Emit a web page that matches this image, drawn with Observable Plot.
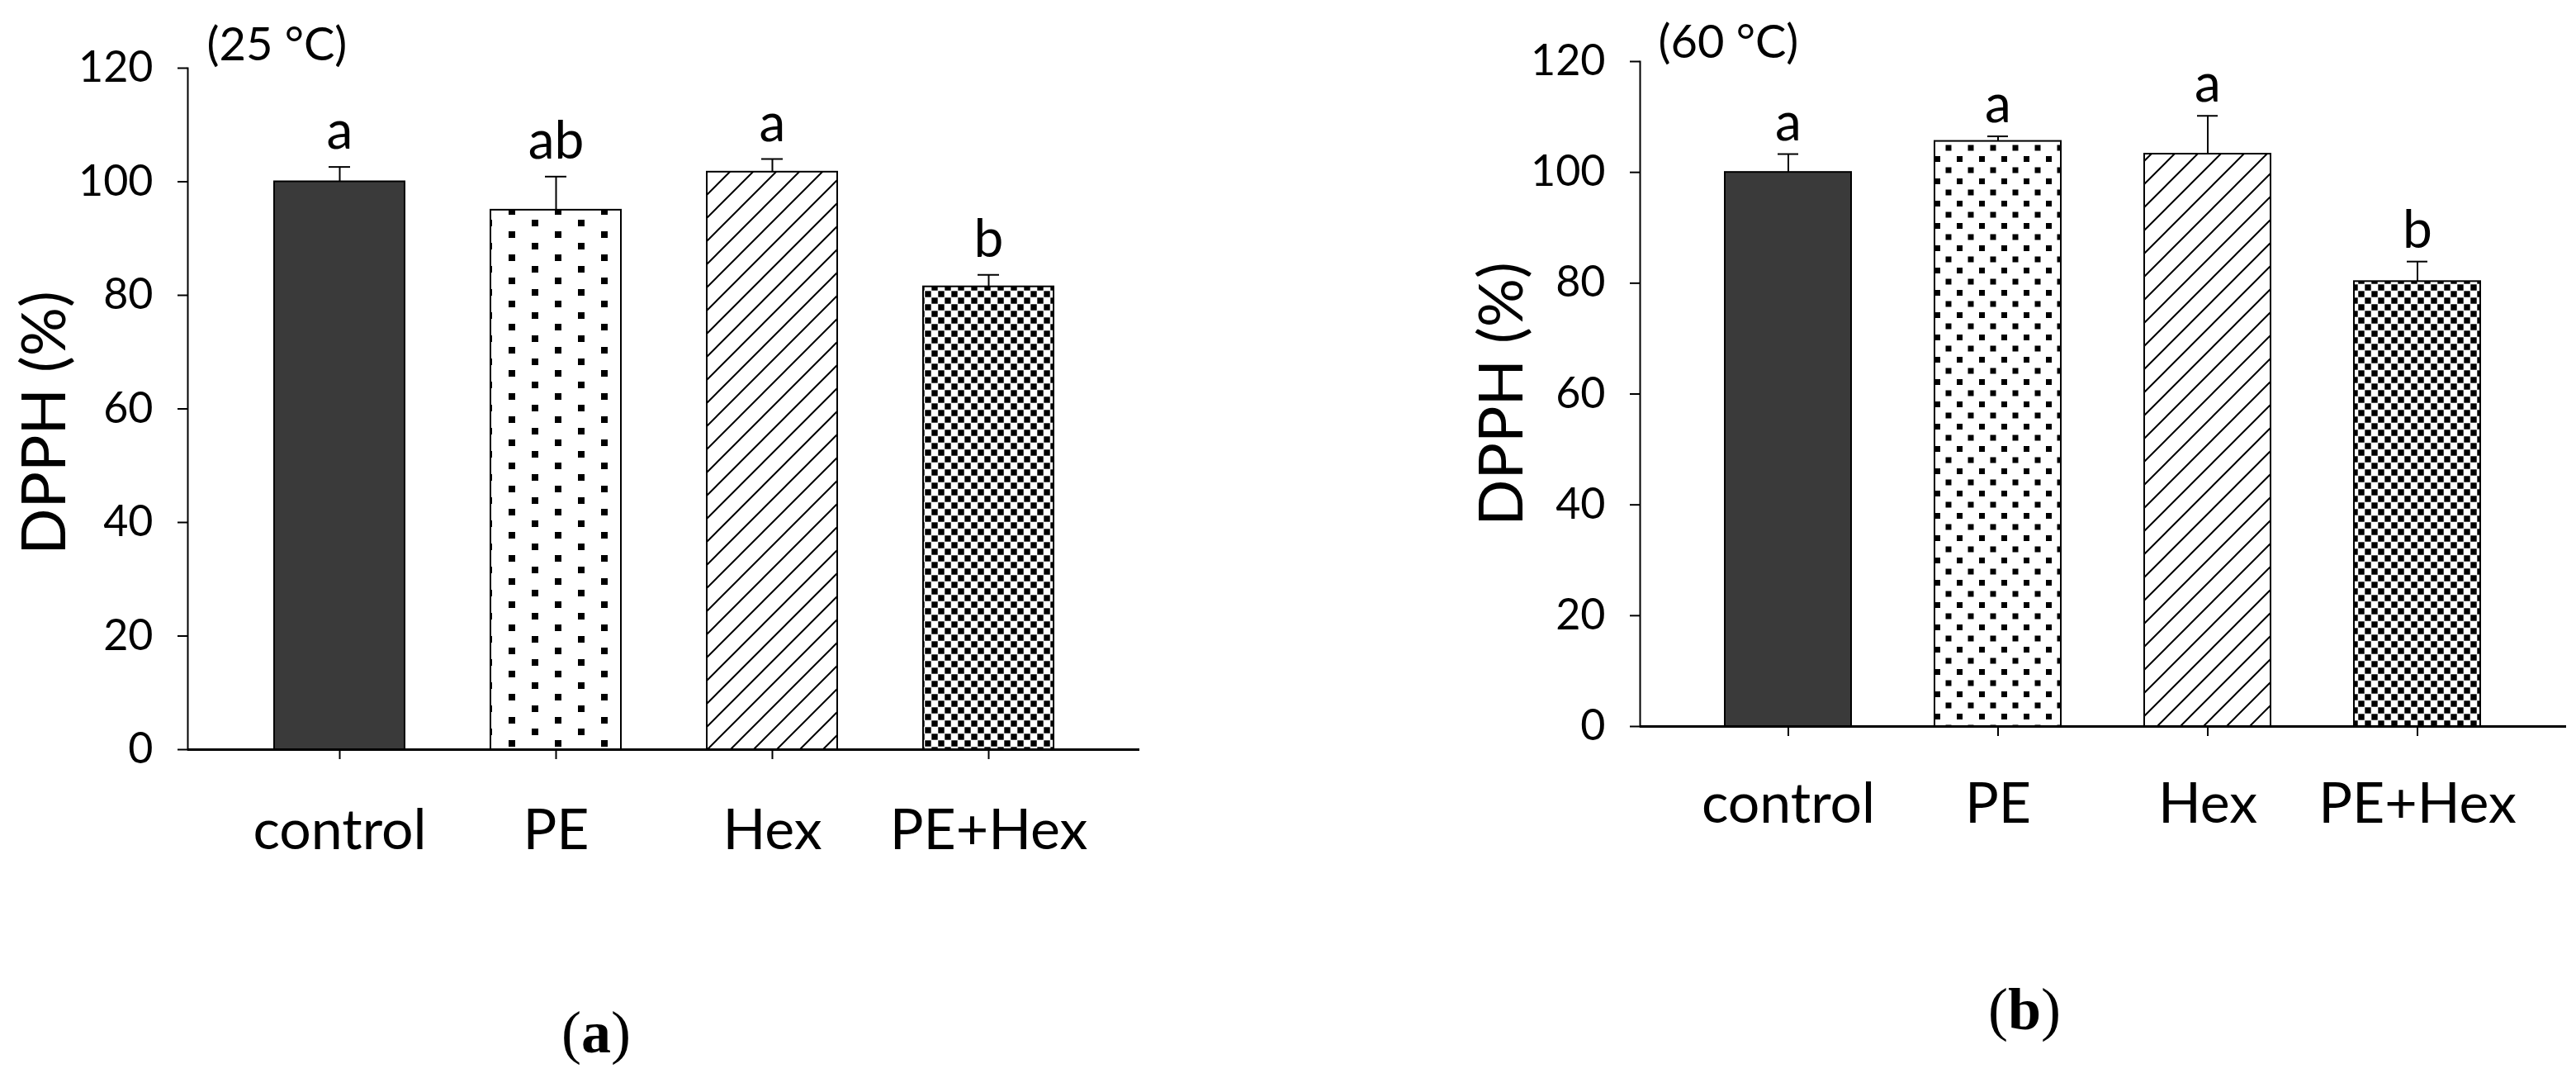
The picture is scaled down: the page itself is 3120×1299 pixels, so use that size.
<!DOCTYPE html>
<html>
<head>
<meta charset="utf-8">
<script src="https://cdn.jsdelivr.net/npm/d3@7"></script>
<script src="https://cdn.jsdelivr.net/npm/@observablehq/plot@0.6"></script>
<style>
  html, body { margin: 0; padding: 0; background: #fff; }
  #wrap { position: relative; width: 3120px; height: 1299px; overflow: hidden; background: #fff; }
  #wrap svg { position: absolute; top: 0; }
  .cap { position: absolute; font-family: "Liberation Serif", "DejaVu Serif", serif; font-size: 72px; line-height: 1; color: #000; transform: translate(-50%, -50%); white-space: nowrap; }
  .cap b { font-weight: bold; }
</style>
</head>
<body>
<div id="wrap">
  <div class="cap" style="left:722px; top:1250px;">(<b>a</b>)</div>
  <div class="cap" style="left:2452px; top:1222px;">(<b>b</b>)</div>
</div>
<script>
// ---------- data ----------
const categories = ["control", "PE", "Hex", "PE+Hex"];
const yTicks = [0, 20, 40, 60, 80, 100, 120];

const mean25 = [100, 95.0, 101.7, 81.5];
const upper25 = [102.6, 100.9, 104.0, 83.6];
const letters25 = ["a", "ab", "a", "b"];

const mean60 = [100, 105.6, 103.3, 80.3];
const upper60 = [103.3, 106.5, 110.2, 83.9];
const letters60 = ["a", "a", "a", "b"];

const tempLabels = ["(25 °C)", "(60 °C)"];
const yTitle = "DPPH (%)";

// ---------- helpers ----------
function addPatterns(svg, tag, dotTile, dotSize) {
  const defs = d3.select(svg).insert("defs", ":first-child");
  // dots
  const pd = defs.append("pattern").attr("id", "dots" + tag).attr("patternUnits", "userSpaceOnUse")
    .attr("width", dotTile[0]).attr("height", dotTile[1]);
  pd.append("rect").attr("width", dotTile[0]).attr("height", dotTile[1]).attr("fill", "#fff");
  pd.append("rect").attr("x", 0).attr("y", 0).attr("width", dotSize).attr("height", dotSize).attr("fill", "#000");
  pd.append("rect").attr("x", dotTile[0] / 2).attr("y", dotTile[1] / 2).attr("width", dotSize).attr("height", dotSize).attr("fill", "#000");
  // hatch
  const ph = defs.append("pattern").attr("id", "hatch" + tag).attr("patternUnits", "userSpaceOnUse")
    .attr("width", 28).attr("height", 28);
  ph.append("rect").attr("width", 28).attr("height", 28).attr("fill", "#fff");
  ph.append("path").attr("d", "M-7,35 L35,-7 M-7,7 L7,-7 M21,35 L35,21").attr("stroke", "#000").attr("stroke-width", 2);
  // checker
  const pc = defs.append("pattern").attr("id", "check" + tag).attr("patternUnits", "userSpaceOnUse")
    .attr("width", 16).attr("height", 16);
  pc.append("rect").attr("width", 16).attr("height", 16).attr("fill", "#fff");
  pc.append("rect").attr("x", 0.3).attr("y", 0.3).attr("width", 7.4).attr("height", 7.4).attr("fill", "#000");
  pc.append("rect").attr("x", 8.3).attr("y", 8.3).attr("width", 7.4).attr("height", 7.4).attr("fill", "#000");
}

function panel(o) {
  const data = categories.map((c, i) => ({cat: c, val: o.mean[i], up: o.upper[i], letter: o.letters[i]}));
  const fills = ["#3a3a3a", `url(#dots${o.tag})`, `url(#hatch${o.tag})`, `url(#check${o.tag})`];
  const svg = Plot.plot({
    width: 1560,
    height: 1299,
    marginLeft: o.marginLeft,
    marginRight: o.marginRight,
    marginTop: o.marginTop,
    marginBottom: o.marginBottom,
    style: {fontFamily: "Lato, 'Open Sans', sans-serif", color: "#000", background: "transparent", overflow: "visible"},
    x: {domain: categories, paddingInner: o.paddingInner, paddingOuter: o.paddingOuter, label: null, axis: null},
    y: {domain: [0, 120], label: null, axis: null},
    color: {domain: categories, range: fills},
    marks: [
      Plot.barY(data, {x: "cat", y: "val", fill: "cat", stroke: "#000", strokeWidth: 2}),
      Plot.ruleX(data, {x: "cat", y1: "val", y2: "up", stroke: "#000", strokeWidth: 2}),
      Plot.tickY(data, {x: "cat", y: "up", stroke: "#000", strokeWidth: 2, insetLeft: o.capInset, insetRight: o.capInset}),
      Plot.text(data, {x: "cat", y: "up", text: "letter", fontSize: 64, lineAnchor: "bottom", dy: o.letterDy, fill: "#000"}),
      Plot.ruleY([0], {stroke: "#000", strokeWidth: 3}),
      Plot.frame({anchor: "left", stroke: "#000", strokeWidth: 2}),
      Plot.axisY({ticks: yTicks, tickSize: 12, tickPadding: 30, fontSize: 52, strokeWidth: 2, label: null, tickFormat: d => String(d)}),
      Plot.axisX({tickSize: 12, tickPadding: o.catPadding, fontSize: 68, strokeWidth: 2, label: null}),
      Plot.text([yTitle], {frameAnchor: "left", text: d => d, rotate: -90, textAnchor: "middle", lineAnchor: "middle", fontSize: 74, dx: o.titleDx, dy: o.titleDy, fill: "#000"}),
      Plot.text([o.temp], {frameAnchor: "top-left", text: d => d, textAnchor: "start", lineAnchor: "middle", fontSize: 56, dx: o.tempDx, dy: o.tempDy, fill: "#000"})
    ]
  });
  addPatterns(svg, o.tag, o.dotTile, o.dotSize);
  svg.style.left = o.left + "px";
  return svg;
}

const wrap = document.getElementById("wrap");
wrap.appendChild(panel({
  tag: "25", mean: mean25, upper: upper25, letters: letters25, temp: tempLabels[0],
  left: 0, marginLeft: 227, marginRight: 180, marginTop: 82, marginBottom: 392,
  paddingInner: 0.398, paddingOuter: 0.396, capInset: 66, letterDy: -22,
  catPadding: 60, titleDx: -172, titleDy: 17, tempDx: 23, tempDy: -27,
  dotTile: [56, 28], dotSize: 8
}));
wrap.appendChild(panel({
  tag: "60", mean: mean60, upper: upper60, letters: letters60, temp: tempLabels[1],
  left: 1560, marginLeft: 426, marginRight: 12, marginTop: 74, marginBottom: 420,
  paddingInner: 0.396, paddingOuter: 0.40, capInset: 64, letterDy: -17,
  catPadding: 56, titleDx: -166, titleDy: 0, tempDx: 22, tempDy: -22,
  dotTile: [27, 27], dotSize: 7
}));
</script>
</body>
</html>
